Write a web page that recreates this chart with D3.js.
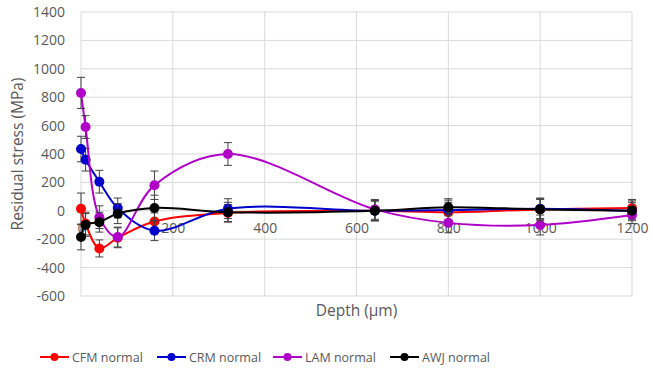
<!DOCTYPE html>
<html lang="en">
<head>
<meta charset="UTF-8">
<title>Residual stress vs depth</title>
<script src="https://d3js.org/d3.v7.min.js"></script>
<style>
  body { margin: 0; background: #fff; font-family: "Open Sans", "Noto Sans", sans-serif; }
  .tick text { fill: #595959; font-size: 14px; font-family: "Open Sans", sans-serif; }
</style>
</head>
<body>
<script>
// data
const depth = [0, 10, 40, 80, 160, 320, 640, 800, 1000, 1200];
const cfm = [15, -90, -265, -190, -75, -15, 0, -10, 10, 20];
const crm = [435, 360, 205, 20, -140, 15, 0, 5, 15, 0];
const lam = [830, 590, -45, -185, 180, 400, 10, -85, -100, -30];
const awj = [-185, -100, -80, -20, 20, -10, 0, 25, 10, 0];
const cfmErr = [110, 80, 60, 70, 60, 60, 70, 70, 70, 60];
const crmErr = [90, 80, 80, 70, 70, 70, 70, 70, 70, 60];
const lamErr = [110, 80, 80, 70, 100, 80, 70, 70, 70, 60];
const awjErr = [90, 80, 70, 70, 90, 70, 70, 60, 80, 70];
const seriesNames = ["CFM normal", "CRM normal", "LAM normal", "AWJ normal"];
const seriesColors = ["#ff0000", "#0000cc", "#b000c8", "#000000"];
const xTicks = [0, 200, 400, 600, 800, 1000, 1200];
const yTicks = [-600, -400, -200, 0, 200, 400, 600, 800, 1000, 1200, 1400];

const width = 653, height = 370;
const plotL = 81, plotR = 632, plotT = 12, plotB = 296;

const svg = d3.select("body").append("svg")
  .attr("width", width).attr("height", height);

const x = d3.scaleLinear().domain([0, 1200]).range([plotL, plotR]);
const y = d3.scaleLinear().domain([-600, 1400]).range([plotB, plotT]);

// grid
svg.append("g").selectAll("line").data(yTicks).enter().append("line")
  .attr("x1", plotL).attr("x2", plotR)
  .attr("y1", d => y(d)).attr("y2", d => y(d))
  .attr("stroke", "#d9d9d9").attr("stroke-width", 1);
svg.append("g").selectAll("line").data(xTicks).enter().append("line")
  .attr("y1", plotT).attr("y2", plotB)
  .attr("x1", d => x(d)).attr("x2", d => x(d))
  .attr("stroke", "#d9d9d9").attr("stroke-width", 1);

// axes (plain hyphen minus like the original)
const fmt = d => String(d);
const yAxis = svg.append("g").attr("transform", `translate(${plotL},0)`)
  .call(d3.axisLeft(y).tickValues(yTicks).tickFormat(fmt).tickSize(0).tickPadding(16));
yAxis.select(".domain").remove();

const xAxis = svg.append("g").attr("transform", `translate(0,${y(0)})`)
  .call(d3.axisBottom(x).tickValues(xTicks).tickFormat(fmt).tickSize(0).tickPadding(12));
xAxis.select(".domain").remove();

svg.append("text")
  .attr("transform", `translate(23,${(plotT + plotB) / 2}) rotate(-90)`)
  .attr("text-anchor", "middle").attr("fill", "#595959").attr("font-size", 15.5)
  .text("Residual stress (MPa)");
svg.append("text")
  .attr("x", (plotL + plotR) / 2).attr("y", 316)
  .attr("text-anchor", "middle").attr("fill", "#595959").attr("font-size", 15.5)
  .text("Depth (\u03bcm)");

// series
const allVals = [cfm, crm, lam, awj];
const allErr = [cfmErr, crmErr, lamErr, awjErr];

const line = d3.line()
  .x(d => x(d.x)).y(d => y(d.y))
  .curve(d3.curveCatmullRom.alpha(0.5));

allVals.forEach((vals, s) => {
  const pts = depth.map((d, i) => ({ x: d, y: vals[i], e: allErr[s][i] }));
  const g = svg.append("g");
  g.append("path").datum(pts)
    .attr("d", line).attr("fill", "none")
    .attr("stroke", seriesColors[s]).attr("stroke-width", 2);

  // error bars
  const eb = g.selectAll(".eb").data(pts).enter().append("g")
    .attr("stroke", "#404040").attr("stroke-width", 1);
  eb.append("line")
    .attr("x1", d => x(d.x)).attr("x2", d => x(d.x))
    .attr("y1", d => y(d.y + d.e)).attr("y2", d => y(d.y - d.e));
  eb.append("line")
    .attr("x1", d => x(d.x) - 4).attr("x2", d => x(d.x) + 4)
    .attr("y1", d => y(d.y + d.e)).attr("y2", d => y(d.y + d.e));
  eb.append("line")
    .attr("x1", d => x(d.x) - 4).attr("x2", d => x(d.x) + 4)
    .attr("y1", d => y(d.y - d.e)).attr("y2", d => y(d.y - d.e));

  g.selectAll("circle").data(pts).enter().append("circle")
    .attr("cx", d => x(d.x)).attr("cy", d => y(d.y)).attr("r", 5)
    .attr("fill", seriesColors[s]);
});

// legend
const legendX = [40, 157, 273, 390];
const lg = svg.append("g").selectAll("g").data(seriesNames).enter().append("g")
  .attr("transform", (d, i) => `translate(${legendX[i]},357)`);
lg.append("line").attr("x1", 0).attr("x2", 29).attr("y1", 0).attr("y2", 0)
  .attr("stroke", (d, i) => seriesColors[i]).attr("stroke-width", 2);
lg.append("circle").attr("cx", 14.5).attr("cy", 0).attr("r", 4)
  .attr("fill", (d, i) => seriesColors[i]);
lg.append("text").attr("x", 32).attr("y", 5)
  .attr("fill", "#595959").attr("font-size", 12.5).text(d => d);
</script>
</body>
</html>
